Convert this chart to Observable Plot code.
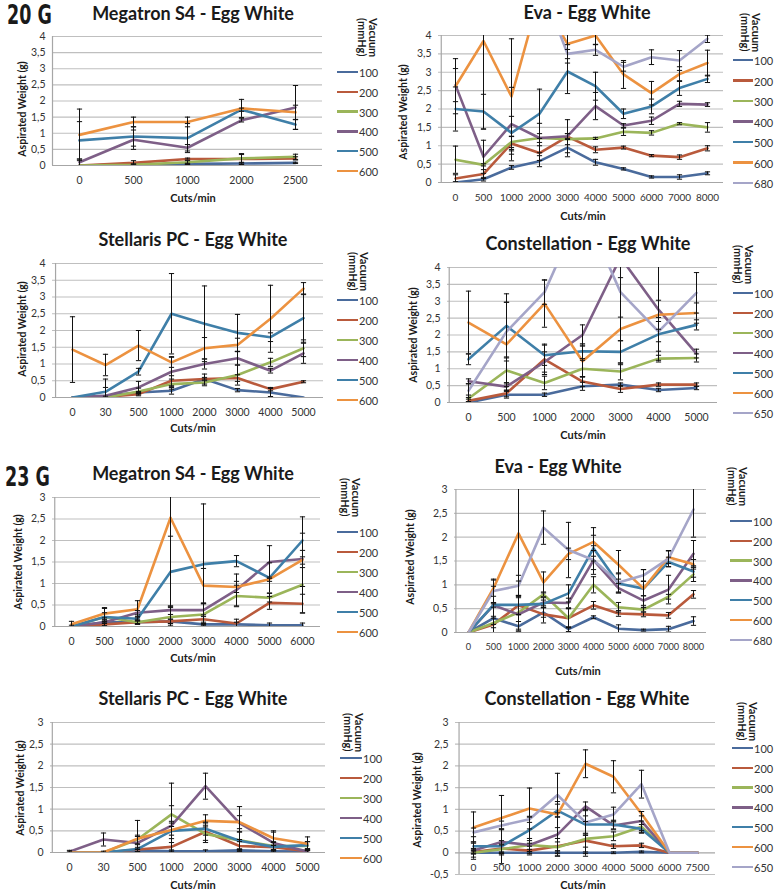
<!DOCTYPE html>
<html><head><meta charset="utf-8">
<script src="https://cdn.jsdelivr.net/npm/d3@7"></script>
<script src="https://cdn.jsdelivr.net/npm/@observablehq/plot@0.6"></script>
<style>
body{margin:0;background:#fff;}
#root{position:relative;width:779px;height:891px;overflow:hidden;font-family:Lato,"Open Sans",sans-serif;color:#1a1a1a;background:#fff;}
.abs{position:absolute;white-space:nowrap;}
.title{font-weight:bold;font-size:18px;transform:translate(-50%,-50%);}
.ylab{font-weight:bold;font-size:10.5px;transform:translate(-50%,-50%) rotate(-90deg);}
.xlab{font-weight:bold;font-size:11px;transform:translate(-50%,-50%);}
.vac{font-weight:bold;font-size:11px;writing-mode:vertical-rl;line-height:11px;}
.leg{font-size:11px;color:#333;transform:translateY(-50%);}
.big{font-family:"DejaVu Sans Condensed","DejaVu Sans";font-weight:bold;font-size:27px;transform-origin:0 0;transform:scaleX(0.72);line-height:1;}
</style></head><body><div id="root"></div>
<script>
// ---------- data ----------
const palette = ["#4a6b9c","#b95a3c","#9bb55a","#7e5f87","#3f7fa8","#ec9240","#a5a5c8"];
const vac6 = ["100","200","300","400","500","600"];
const vac680 = ["100","200","300","400","500","600","680"];
const vac650 = ["100","200","300","400","500","600","650"];

// 20 G  Megatron S4
const meg20Cuts = ["0","500","1000","2000","2500"];
const meg20Vals = [
  [0,0.03,0.05,0.06,0.08],
  [0,0.08,0.2,0.2,0.22],
  [0,0.02,0.1,0.22,0.27],
  [0.1,0.8,0.55,1.4,1.8],
  [0.78,0.9,0.85,1.73,1.27],
  [0.95,1.35,1.35,1.77,1.65]];
const meg20Err = [
  [0,0.02,0.02,0.02,0.02],
  [0,0.07,0.03,0.17,0.05],
  [0,0.02,0.05,0.12,0.08],
  [0.1,0.3,0.1,0.05,0.68],
  [0.58,0.3,0.45,0.05,0.15],
  [0.8,0.15,0.15,0.28,0.22]];

// 20 G  Eva
const evaCuts = ["0","500","1000","2000","3000","4000","5000","6000","7000","8000"];
const eva20Vals = [
  [0,0.09,0.41,0.58,0.95,0.55,0.37,0.15,0.15,0.25],
  [0.11,0.23,1.06,0.8,1.25,0.89,0.95,0.73,0.69,0.93],
  [0.62,0.48,1.1,1.21,1.18,1.2,1.38,1.35,1.6,1.5],
  [2.65,0.7,1.59,1.21,1.26,2.08,1.55,1.68,2.14,2.12],
  [2.0,1.93,1.35,1.87,3.02,2.62,1.87,2.07,2.57,2.82],
  [2.62,3.85,2.34,5.1,3.77,4.0,2.94,2.43,2.95,3.25],
  [4.6,4.8,5.0,5.5,3.5,3.61,3.15,3.41,3.32,3.91]];
const eva20Err = [
  [0.02,0.05,0.05,0.15,0.25,0.08,0.03,0.03,0.06,0.04],
  [0.1,0.12,0.2,0.2,0.08,0.08,0.04,0.03,0.06,0.07],
  [0.37,0.03,0.15,0.12,0.15,0.03,0.1,0.06,0.03,0.13],
  [0.45,0.45,1.0,0.4,0.45,0.37,0.05,0.1,0.07,0.05],
  [0.6,0.47,0.45,0.67,0.6,0.38,0.13,0.2,0.2,0.1],
  [0.75,2.4,1.57,0.5,0.4,0.25,0.38,0.32,0.2,0.35],
  [0,0,0,0,0.25,0.15,0.12,0.2,0.27,0.1]];

// 20 G  Stellaris PC
const stelCuts = ["0","30","500","1000","2000","3000","4000","5000"];
const stel20Vals = [
  [0,0.05,0.15,0.2,0.55,0.22,0.15,0],
  [0,0.02,0.1,0.5,0.55,0.58,0.25,0.47],
  [0,0,0.18,0.4,0.45,0.67,1.05,1.47],
  [0,0.05,0.3,0.77,1.0,1.17,0.8,1.32],
  [0,0.17,0.77,2.5,2.2,1.93,1.8,2.37],
  [1.43,0.97,1.55,1.05,1.47,1.57,2.35,3.25]];
const stel20Err = [
  [0,0,0.03,0.1,0.05,0.05,0.12,0],
  [0,0,0.05,0.15,0.15,0.1,0.05,0.03],
  [0,0,0.1,0.15,0.1,0.3,0.12,0.25],
  [0,0.5,0.18,0.45,0.15,0.2,0.07,0.3],
  [0,0.13,0.1,1.2,1.13,0.55,0.13,0.72],
  [0.98,0.32,0.45,0.15,0.32,0.2,1.0,0.18]];

// 20 G  Constellation
const con20Cuts = ["0","500","1000","2000","3000","4000","5000"];
const con20Vals = [
  [0,0.23,0.23,0.48,0.53,0.37,0.43],
  [0.05,0.27,1.28,0.62,0.4,0.53,0.53],
  [0.12,0.95,0.58,1.0,0.92,1.3,1.32],
  [0.63,0.47,1.2,2.0,4.3,2.75,1.45],
  [1.28,2.27,1.4,1.52,1.5,2.02,2.3],
  [2.37,1.72,2.93,1.22,2.18,2.6,2.65],
  [0.35,2.1,3.27,5.8,3.27,2.1,3.25]];
const con20Err = [
  [0.03,0.1,0.05,0.12,0.05,0.05,0.05],
  [0.05,0.1,0.45,0.15,0.1,0.05,0.05],
  [0.1,0.4,0.2,0.25,0.25,0.1,0.12],
  [0.07,0.12,0.3,0.3,0.6,1.5,0.13],
  [0.16,0.95,0.3,0.22,0.33,0.5,0.15],
  [0.93,1.25,0.7,0.45,0.35,0.43,0.3],
  [0.2,0.87,0.36,0.3,2.15,0.3,0.6]];

// 23 G  Megatron S4
const meg23Cuts = ["0","500","1000","2000","3000","4000","5000","6000"];
const meg23Vals = [
  [0,0.1,0.1,0.12,0.05,0.05,0.03,0.03],
  [0,0.05,0.1,0.12,0.17,0.07,0.55,0.53],
  [0,0.22,0.1,0.22,0.28,0.71,0.67,0.97],
  [0,0.1,0.32,0.38,0.38,0.85,1.5,1.57],
  [0,0.22,0.18,1.27,1.45,1.52,1.13,2.0],
  [0.05,0.3,0.4,2.53,0.95,0.92,1.1,1.55]];
const meg23Err = [
  [0.03,0.03,0.03,0.05,0.05,0.05,0.05,0.05],
  [0,0.05,0.05,0.05,0.1,0.1,0.15,0.22],
  [0,0.1,0.05,0.25,0.25,0.25,0.1,0.65],
  [0,0.1,0.05,0.1,0.15,0.37,0.38,0.2],
  [0,0.2,0.05,0.83,1.4,0.13,0.35,0.55],
  [0.07,0.14,0.2,2.5,0.4,0.13,0.05,0.62]];

// 23 G  Eva
const eva23Vals = [
  [0,0.3,0.13,0.42,0.07,0.32,0.08,0.05,0.07,0.24],
  [0,0.17,0.57,0.38,0.3,0.57,0.4,0.38,0.36,0.8],
  [0,0.2,0.42,0.8,0.3,1.0,0.53,0.48,0.75,1.22],
  [0,0.57,0.38,0.63,0.62,1.52,0.93,0.67,0.9,1.65],
  [0,0.58,0.58,0.6,0.82,1.77,1.03,0.92,1.48,1.28],
  [0,0.93,2.08,1.05,1.65,1.9,1.42,0.92,1.58,1.43],
  [0,0.87,0.98,2.2,1.73,1.52,1.05,1.2,1.55,2.58]];
const eva23Err = [
  [0,0.3,0.1,0.1,0.05,0.03,0.08,0.02,0.06,0.09],
  [0,0.17,0.2,0.18,0.2,0.08,0.06,0.05,0.06,0.08],
  [0,0.1,0.35,0.05,0.2,0.17,0.1,0.05,0.05,0.15],
  [0,0.4,0.35,0.1,0.1,0.3,0.1,0.1,0.3,0.28],
  [0,0.05,0.2,0.08,0.18,0.27,0.2,0.15,0.1,0.12],
  [0,0.17,1.0,0.22,0.12,0.3,0.3,0.4,0.13,0.1],
  [0,0.25,0.22,0.35,0.58,0.2,0.2,0.12,0.17,0.58]];

// 23 G  Stellaris PC
const stel23Vals = [
  [0,0,0.05,0.03,0.03,0.05,0.03,0.02],
  [0,0,0.07,0.13,0.48,0.15,0.12,0.03],
  [0,0,0.3,0.88,0.43,0.28,0.15,0.15],
  [0.02,0.3,0.22,0.62,1.53,0.68,0.22,0.02],
  [0,0,0.08,0.5,0.55,0.27,0.13,0.17],
  [0,0,0.32,0.52,0.73,0.7,0.33,0.2]];
const stel23Err = [
  [0.03,0.03,0.03,0.03,0.03,0.03,0.03,0.03],
  [0,0,0.05,0.1,0.2,0.1,0.05,0.05],
  [0,0,0.1,0.2,0.2,0.2,0.1,0.1],
  [0.03,0.15,0.15,0.98,0.3,0.38,0.25,0.05],
  [0,0,0.1,0.1,0.15,0.2,0.1,0.08],
  [0,0,0.42,0.2,0.14,0.15,0.17,0.16]];

// 23 G  Constellation
const con23Cuts = ["0","500","1000","2000","3000","4000","5000","6000","7500"];
const con23Vals = [
  [0,0,0,0,0,0,0.02,0,0],
  [0.02,0.1,0.05,0.15,0.28,0.15,0.17,0,0],
  [0,0.08,0.18,0.13,0.32,0.38,0.6,0,0],
  [0.05,0.25,0.18,0.42,1.07,0.63,0.73,0,0],
  [0.15,0.15,0.52,0.97,0.65,0.65,0.55,0,0],
  [0.58,0.8,1.02,0.88,2.05,1.75,0.9,0,0],
  [0.47,0.63,0.77,1.33,0.7,0.88,1.58,0,0]];
const con23Err = [
  [0.02,0.02,0.02,0.02,0.02,0.02,0.02,0,0],
  [0.05,0.1,0.1,0.1,0.15,0.05,0.05,0,0],
  [0.1,0.1,0.15,0.2,0.4,0.1,0.13,0,0],
  [0.2,0.3,0.1,0.5,0.1,0.1,0.22,0,0],
  [0.1,0.4,0.3,0.15,0.2,0.1,0.1,0,0],
  [0.36,0.52,0.47,0.3,0.32,0.37,0.05,0,0],
  [0.1,0.1,0.07,0.5,0.3,0.17,0.32,0,0]];

const titles = ["Megatron S4 - Egg White","Eva - Egg White","Stellaris PC - Egg White","Constellation - Egg White"];
const yLabel = "Aspirated Weight (g)";
const xLabel = "Cuts/min";
const groupLabels = ["20 G","23 G"];

// ---------- layout ----------
const panels = [
  {cuts:meg20Cuts, vals:meg20Vals, err:meg20Err, vac:vac6, title:titles[0], L:52,R:322,T:36,B:165, ymin:0,ymax:4, xf:10.5,
   tc:[193,13], yl:[22,109], xl:[193,197], vt:[357,18], lg:[72,19.8], ls:[337,358]},
  {cuts:evaCuts, vals:eva20Vals, err:eva20Err, vac:vac680, title:titles[1], L:438,R:723,T:35,B:182, ymin:0,ymax:4, xf:10,
   tc:[587,12], yl:[403,112], xl:[583,215], vt:[740,13], lg:[60,20.5], ls:[733,753]},
  {cuts:stelCuts, vals:stel20Vals, err:stel20Err, vac:vac6, title:titles[2], L:52,R:323,T:263,B:397, ymin:0,ymax:4, xf:10.5,
   tc:[193,239], yl:[22,329], xl:[193,427], vt:[348,252], lg:[300,20], ls:[337,358]},
  {cuts:con20Cuts, vals:con20Vals, err:con20Err, vac:vac650, title:titles[3], L:447,R:717,T:267,B:402, ymin:0,ymax:4, xf:10.5,
   tc:[588,243], yl:[413,335], xl:[583,434], vt:[733,245], lg:[293,20], ls:[733,753]},
  {cuts:meg23Cuts, vals:meg23Vals, err:meg23Err, vac:vac6, title:titles[0], L:52,R:320,T:497,B:626, ymin:0,ymax:3, xf:10.5,
   tc:[193,473], yl:[18,562], xl:[193,657], vt:[340,478], lg:[532,20], ls:[337,358]},
  {cuts:evaCuts, vals:eva23Vals, err:eva23Err, vac:vac680, title:titles[1], L:454,R:706,T:489,B:632, ymin:0,ymax:3, xf:9.2,
   tc:[558,466], yl:[410,557], xl:[578,670], vt:[727,467], lg:[521,19.8], ls:[730,752]},
  {cuts:stelCuts, vals:stel23Vals, err:stel23Err, vac:vac6, title:titles[2], L:50,R:325,T:722,B:852, ymin:0,ymax:3, xf:10.5,
   tc:[193,698], yl:[20,788], xl:[193,884], vt:[343,713], lg:[758,20], ls:[340,362]},
  {cuts:con23Cuts, vals:con23Vals, err:con23Err, vac:vac650, title:titles[3], L:455,R:715,T:722,B:874, ymin:-0.5,ymax:3, xf:10.2,
   tc:[587,698], yl:[417,800], xl:[583,884], vt:[737,702], lg:[748,19.8], ls:[732,753]}
];

const root = document.getElementById("root");
function addDiv(cls, text, x, y, extra) {
  const d = document.createElement("div");
  d.className = "abs " + cls;
  d.style.left = x + "px"; d.style.top = y + "px";
  if (text != null) d.innerHTML = text;
  if (extra) Object.assign(d.style, extra);
  root.appendChild(d);
  return d;
}
const fmt = v => String(+v.toFixed(1)).replace(".", ",");
const capSymbol = {draw(ctx, size) { const r = Math.sqrt(size / Math.PI); ctx.moveTo(-r, 0); ctx.lineTo(r, 0); }};

panels.forEach(p => {
  const mL = 40, mR = 6, mT = 6, mB = 26;
  const rows = [];
  p.vals.forEach((arr, i) => arr.forEach((v, j) => rows.push({s: p.vac[i], x: p.cuts[j], y: v, e: p.err[i][j]})));
  const ebs = rows.filter(d => d.e > 0);
  const caps = ebs.flatMap(d => [{x: d.x, y: d.y - d.e}, {x: d.x, y: d.y + d.e}]);
  const ticks = d3.range(Math.round(p.ymin * 2), Math.round(p.ymax * 2) + 1).map(k => k / 2);
  const step = (p.R - p.L) / p.cuts.length;
  const svg = Plot.plot({
    width: p.R - p.L + mL + mR, height: p.B - p.T + mT + mB,
    marginLeft: mL, marginRight: mR, marginTop: mT, marginBottom: mB,
    style: {background: "none", fontFamily: "Lato, 'Open Sans', sans-serif", overflow: "visible", maxWidth: "none"},
    x: {type: "point", domain: p.cuts, padding: 0.5, axis: null},
    y: {domain: [p.ymin, p.ymax], axis: null},
    color: {domain: p.vac, range: palette.slice(0, p.vac.length)},
    marks: [
      Plot.ruleY(ticks.filter(t => t !== 0), {y: d => d, stroke: "#bfbfbf", strokeWidth: 1.2}),
      Plot.ruleX([p.cuts[0]], {x: d => d, dx: -step / 2, y1: p.ymin, y2: p.ymax, stroke: "#a6a6a6", strokeWidth: 1.2}),
      Plot.ruleY([0], {y: d => d, stroke: "#a6a6a6", strokeWidth: 1.2}),
      Plot.axisY({ticks, label: null, tickSize: 0, tickPadding: 7, tickFormat: fmt, fontSize: 10.5, fill: "#333"}),
      Plot.text(p.cuts, {x: d => d, y: () => 0, dy: 15, fontSize: p.xf, fill: "#333"}),
      Plot.lineY(rows, {x: "x", y: "y", z: "s", stroke: "s", strokeWidth: 2.6, clip: true}),
      Plot.ruleX(ebs, {x: "x", y1: d => d.y - d.e, y2: d => d.y + d.e, stroke: "#111", strokeWidth: 1, clip: true}),
      Plot.dot(caps, {x: "x", y: "y", symbol: capSymbol, r: 2.6, fill: "none", stroke: "#111", strokeWidth: 1, clip: true})
    ]
  });
  svg.style.position = "absolute";
  svg.style.left = (p.L - mL) + "px";
  svg.style.top = (p.T - mT) + "px";
  root.appendChild(svg);

  addDiv("title", p.title, p.tc[0], p.tc[1]);
  addDiv("ylab", yLabel, p.yl[0], p.yl[1]);
  addDiv("xlab", xLabel, p.xl[0], p.xl[1]);
  addDiv("vac", "Vacuum<br>(mmHg)", p.vt[0], p.vt[1]);
  p.vac.forEach((v, i) => {
    const y = p.lg[0] + i * p.lg[1];
    addDiv("", null, p.ls[0], y - 1.3, {width: (p.ls[1] - p.ls[0]) + "px", height: "2.6px", background: palette[i]});
    addDiv("leg", v, p.ls[1] + 1, y);
  });
});
addDiv("big", groupLabels[0], 7, 1);
addDiv("big", groupLabels[1], 5, 463);
</script></body></html>
